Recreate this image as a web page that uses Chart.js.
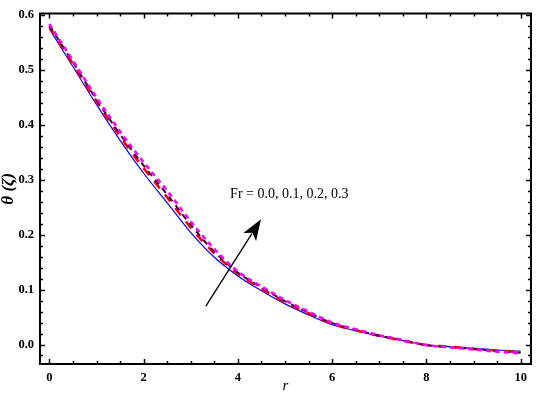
<!DOCTYPE html>
<html>
<head>
<meta charset="utf-8">
<script src="https://cdn.jsdelivr.net/npm/chart.js@4/dist/chart.umd.min.js"></script>
<style>
  html, body { margin: 0; padding: 0; background: #ffffff; }
  #wrap { width: 536px; height: 399px; }
</style>
</head>
<body>
<div id="wrap"><canvas id="c" width="536" height="399"></canvas></div>
<script>
// ---- data ----
const rValues = [0, 0.5, 1, 1.5, 2, 2.5, 3, 3.5, 4, 4.5, 5, 5.5, 6, 6.5, 7, 7.5, 8, 8.5, 9, 9.5, 10];
const thetaFr00 = [0.575, 0.506, 0.437, 0.372, 0.312, 0.258, 0.204, 0.159, 0.125, 0.098, 0.074, 0.054, 0.036, 0.025, 0.015, 0.007, -0.001, -0.004, -0.007, -0.010, -0.012];
const thetaFr01 = [0.579, 0.511, 0.443, 0.379, 0.321, 0.268, 0.213, 0.166, 0.129, 0.102, 0.077, 0.057, 0.038, 0.026, 0.016, 0.007, -0.001, -0.004, -0.008, -0.011, -0.014];
const thetaFr02 = [0.581, 0.514, 0.446, 0.383, 0.326, 0.273, 0.218, 0.169, 0.131, 0.104, 0.079, 0.058, 0.039, 0.027, 0.016, 0.008, -0.001, -0.005, -0.008, -0.012, -0.015];
const thetaFr03 = [0.584, 0.517, 0.450, 0.388, 0.332, 0.280, 0.224, 0.174, 0.133, 0.106, 0.081, 0.060, 0.040, 0.028, 0.017, 0.008, -0.001, -0.005, -0.009, -0.013, -0.016];
const xTickValues = [0, 2, 4, 6, 8, 10];
const yTickValues = [0.0, 0.1, 0.2, 0.3, 0.4, 0.5, 0.6];
const annotationText = 'Fr = 0.0, 0.1, 0.2, 0.3';

// ---- annotation placement (data units) ----
const arrowTail = { x: 3.32, y: 0.070 };
const arrowTip = { x: 4.49, y: 0.228 };
const labelPos = { x: 5.09, y: 0.274 };

const toPts = (ys) => rValues.map((x, i) => ({ x: x, y: ys[i] }));

const framePlugin = {
  id: 'frame',
  afterDatasetsDraw(chart) {
    const { ctx, chartArea: a, scales } = chart;
    const xs = scales.x, ys = scales.y;
    ctx.save();
    ctx.strokeStyle = '#000';
    // ticks
    ctx.lineWidth = 1.5;
    const xt = [];
    for (let v = 0; v <= 10.001; v += 0.5) xt.push(v);
    xt.forEach((v) => {
      const major = Math.abs(v / 2 - Math.round(v / 2)) < 1e-6;
      const len = major ? 5 : 3;
      const px = Math.round(xs.getPixelForValue(v)) + 0.5;
      ctx.beginPath();
      ctx.moveTo(px, a.bottom); ctx.lineTo(px, a.bottom - len);
      ctx.moveTo(px, a.top); ctx.lineTo(px, a.top + len);
      ctx.stroke();
    });
    const yt = [];
    for (let k = -1; k <= 30; k++) yt.push(k * 0.02);
    yt.forEach((v, i) => {
      const major = ((i - 1) % 5) === 0;
      const len = major ? 5 : 3;
      const py = Math.round(ys.getPixelForValue(v)) + 0.5;
      if (py < a.top || py > a.bottom) return;
      ctx.beginPath();
      ctx.moveTo(a.left, py); ctx.lineTo(a.left + len, py);
      ctx.moveTo(a.right, py); ctx.lineTo(a.right - len, py);
      ctx.stroke();
    });
    // frame
    ctx.lineWidth = 2;
    ctx.strokeRect(a.left, a.top, a.right - a.left, a.bottom - a.top);

    // arrow
    const tx = xs.getPixelForValue(arrowTail.x), ty = ys.getPixelForValue(arrowTail.y);
    const hx = xs.getPixelForValue(arrowTip.x), hy = ys.getPixelForValue(arrowTip.y);
    const ang = Math.atan2(hy - ty, hx - tx);
    const headLen = 21, headW = 7.5;
    const bx = hx - headLen * Math.cos(ang), by = hy - headLen * Math.sin(ang);
    ctx.lineWidth = 1.3;
    ctx.beginPath();
    ctx.moveTo(tx, ty); ctx.lineTo(bx + 4 * Math.cos(ang), by + 4 * Math.sin(ang));
    ctx.stroke();
    ctx.fillStyle = '#000';
    ctx.beginPath();
    ctx.moveTo(hx, hy);
    ctx.lineTo(bx + headW * Math.sin(ang), by - headW * Math.cos(ang));
    ctx.lineTo(bx + 5 * Math.cos(ang), by + 5 * Math.sin(ang));
    ctx.lineTo(bx - headW * Math.sin(ang), by + headW * Math.cos(ang));
    ctx.closePath();
    ctx.fill();

    // label
    ctx.font = '14px "Liberation Serif", serif';
    ctx.textAlign = 'center';
    ctx.textBaseline = 'middle';
    ctx.fillText(annotationText, xs.getPixelForValue(labelPos.x), ys.getPixelForValue(labelPos.y));
    ctx.restore();
  }
};

const tickFont = { family: '"Liberation Serif", serif', weight: 'bold', size: 12.5 };

new Chart(document.getElementById('c'), {
  type: 'line',
  data: {
    datasets: [
      { label: 'Fr = 0.0', data: toPts(thetaFr00), borderColor: '#0000ff', borderWidth: 1.2, order: 3 },
      { label: 'Fr = 0.1', data: toPts(thetaFr01), borderColor: '#ff0000', borderWidth: 2.6, borderDash: [9, 8], order: 2 },
      { label: 'Fr = 0.2', data: toPts(thetaFr02), borderColor: '#3a0a2a', borderWidth: 2, borderDash: [6, 5], order: 1 },
      { label: 'Fr = 0.3', data: toPts(thetaFr03), borderColor: '#ff00ff', borderWidth: 2.6, borderDash: [5, 4], order: 0 }
    ]
  },
  options: {
    responsive: false,
    animation: false,
    devicePixelRatio: 1,
    layout: { padding: { left: 0, right: 5, top: 5, bottom: 0 } },
    elements: {
      point: { radius: 0, hoverRadius: 0 },
      line: { cubicInterpolationMode: 'monotone', fill: false }
    },
    plugins: { legend: { display: false }, tooltip: { enabled: false } },
    scales: {
      x: {
        type: 'linear',
        min: -0.2,
        max: 10.22,
        grid: { display: false, drawTicks: false },
        border: { display: false },
        afterBuildTicks: (s) => { s.ticks = xTickValues.map((v) => ({ value: v })); },
        afterFit: (s) => { s.height = 35; },
        ticks: { font: tickFont, color: '#000', padding: 6, maxRotation: 0, autoSkip: false, callback: (v) => String(v) },
        title: { display: true, text: 'r', color: '#000', font: { family: '"Liberation Serif", serif', style: 'italic', size: 15, lineHeight: 1 }, padding: { top: 0, bottom: 5 } }
      },
      y: {
        type: 'linear',
        min: -0.0355,
        max: 0.603,
        grid: { display: false, drawTicks: false },
        border: { display: false },
        afterBuildTicks: (s) => { s.ticks = yTickValues.map((v) => ({ value: v })); },
        afterFit: (s) => { s.width = 40; },
        ticks: { font: tickFont, color: '#000', padding: 6, autoSkip: false, callback: (v) => v.toFixed(1) },
        title: { display: true, text: 'θ (ζ)', color: '#000', font: { family: '"Liberation Serif", serif', style: 'italic', weight: 'bold', size: 17, lineHeight: 1 }, padding: { top: 0, bottom: 0 } }
      }
    }
  },
  plugins: [framePlugin]
});
</script>
</body>
</html>
